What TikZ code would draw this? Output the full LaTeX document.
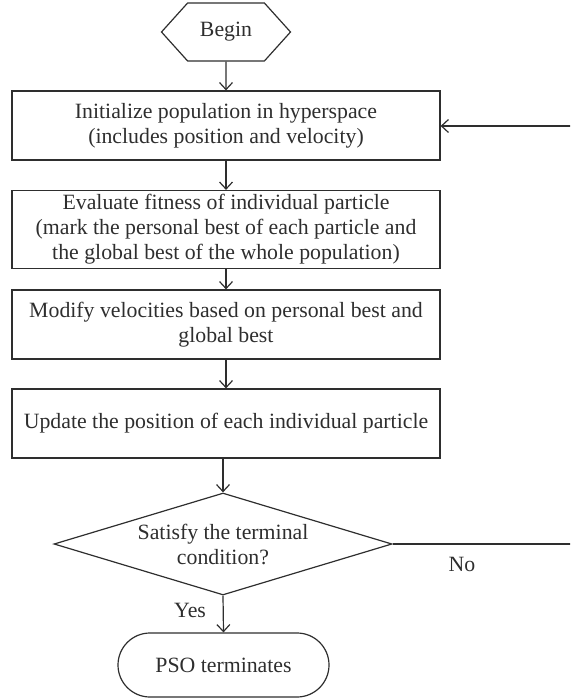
\documentclass[tikz,border=0pt]{standalone}
\usepackage{fontspec}
\setmainfont{Liberation Serif}
\usetikzlibrary{arrows.meta,shapes.geometric,shapes.misc,shapes.symbols}
\definecolor{inkgray}{HTML}{2E2E2E}
\tikzset{
  flowline/.style={draw=inkgray, line width=0.6pt},
  flowarrow/.style={flowline, -{Straight Barb[length=3.5pt,width=6.5pt]}},
  procbox/.style={draw=inkgray, line width=0.6pt, rectangle, minimum width=214pt,
    align=center, text=inkgray, font=\fontsize{10.9}{12.5}\selectfont, inner sep=0pt},
  startbox/.style={draw=inkgray, line width=0.6pt, signal, signal to=west and east,
    signal pointer angle=96, minimum width=64.5pt, minimum height=29pt,
    text=inkgray, font=\fontsize{10.9}{12.5}\selectfont, inner sep=0pt},
  decbox/.style={draw=inkgray, line width=0.6pt, diamond, aspect=3.31, minimum width=169pt,
    minimum height=51pt, align=center, text=inkgray, inner sep=0pt,
    font=\fontsize{10.9}{12.5}\selectfont},
  endbox/.style={draw=inkgray, line width=0.6pt, rounded rectangle, minimum width=105.5pt,
    minimum height=32pt, text=inkgray, inner sep=0pt, font=\fontsize{10.9}{12.5}\selectfont},
  lbl/.style={text=inkgray, font=\fontsize{10.9}{12.5}\selectfont}
}
\begin{document}
\begin{tikzpicture}[x=0.5pt, y=-0.5pt]

        \clip (0,0) rectangle (570,699);

        % Begin
        \node[startbox] (begin) at (226,32) {Begin};

        % Initialize
        \node[procbox, minimum height=34.5pt] (init) at (226,125.5)
            {Initialize population in hyperspace\\(includes position and velocity)};

        % Evaluate
        \node[procbox, minimum height=39pt] (eval) at (226,229.5)
            {Evaluate fitness of individual particle\\(mark the personal best of each particle and\\the global best of the whole population)};

        % Modify
        \node[procbox, minimum height=34.5pt] (modify) at (226,324.5)
            {Modify velocities based on personal best and\\global best};

        % Update
        \node[procbox, minimum height=34.5pt] (update) at (226,423.5)
            {Update the position of each individual particle};

        % Decision
        \node[decbox] (check) at (223,544) {Satisfy the terminal\\condition?};

        % End
        \node[endbox] (finish) at (223.5,665) {PSO terminates};

        % Loop corners
        \coordinate (nobot) at (575,544);
        \coordinate (notop) at (575,126);

        % Arrows
        \draw[flowarrow] (begin) -- (init);
        \draw[flowarrow] (init) -- (eval);
        \draw[flowarrow] (eval) -- (modify);
        \draw[flowarrow] (modify) -- (update);
        \draw[flowarrow] (update.south -| check.north) -- (check.north);
        \draw[flowarrow] (check.south) -- (finish.north)
            node[pos=0.4, left=5pt, lbl] (yeslbl) {Yes};

        % No loop
        \draw[flowline] (check.east) -- (nobot)
            node[pos=0.38, below=3pt, lbl] (nolbl) {No};
        \draw[flowarrow] (nobot) -- (notop) -- (init.east |- notop);

    \end{tikzpicture}
\end{document}
